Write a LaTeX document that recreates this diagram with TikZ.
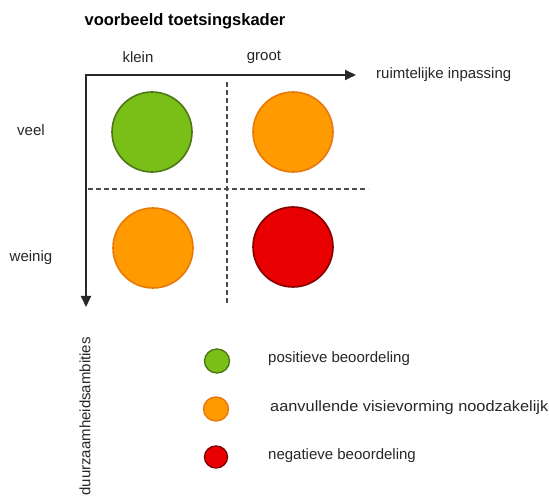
\documentclass[tikz,border=0pt]{standalone}
\usepackage{fontspec}
\setmainfont{Liberation Sans}
\usetikzlibrary{arrows.meta,shapes.geometric}
\definecolor{cgreen}{RGB}{122,190,24}
\definecolor{cgreenb}{RGB}{78,118,22}
\definecolor{corange}{RGB}{255,154,0}
\definecolor{corangeb}{RGB}{232,120,10}
\definecolor{cred}{RGB}{232,0,0}
\definecolor{credb}{RGB}{130,0,0}
\definecolor{axisc}{RGB}{40,40,40}
\begin{document}
\begin{tikzpicture}[x=1pt,y=-1pt,
  lbl/.style={font=\fontsize{15}{17}\selectfont, text=black!85, inner sep=0pt},
  bigdot/.style={circle, minimum size=80pt, line width=1.6pt, inner sep=0pt},
  smalldot/.style={ellipse, minimum width=25pt, minimum height=24pt, line width=1.4pt, inner sep=0pt},
  gdot/.style={fill=cgreen, draw=cgreenb},
  odot/.style={fill=corange, draw=corangeb},
  rdot/.style={fill=cred, draw=credb},
  axisline/.style={draw=axisc, line width=1.8pt, -{Triangle[length=11pt,width=10pt]}},
  divline/.style={draw=black!70, line width=1.6pt, dash pattern=on 5pt off 3pt}
]
\useasboundingbox (0,0) rectangle (549,502);
% title
\node[font=\fontsize{16.5}{19}\selectfont\bfseries, inner sep=0pt] (title) at (185,21) {voorbeeld toetsingskader};
% column labels
\node[lbl] (klein) at (138,57) {klein};
\node[lbl] (groot) at (264,57) {groot};
% axes
\coordinate (o) at (86,75);
\coordinate (xend) at (356,75);
\coordinate (yend) at (86,307);
\draw[axisline] ([xshift=-0.9pt]o) -- (xend);
\draw[axisline] (o) -- (yend);
\node[lbl, anchor=west] (xlab) at (376,75) {ruimtelijke inpassing};
\node[lbl, rotate=90, anchor=east] (ylab) at (85,337) {duurzaamheidsambities};
% row labels
\node[lbl] (veel) at (31,130) {veel};
\node[lbl] (weinig) at (31,258) {weinig};
% dividers
\coordinate (vtop) at (227,82);
\coordinate (vbot) at (227,303);
\coordinate (hl) at (88,189);
\coordinate (hr) at (368,189);
\draw[divline] (vtop) -- (vbot);
\draw[divline] (hl) -- (hr);
% quadrant circles
\node[bigdot, gdot] (c11) at (152,132) {};
\node[bigdot, odot] (c12) at (293,132) {};
\node[bigdot, odot] (c21) at (153,248) {};
\node[bigdot, rdot] (c22) at (293,247) {};
% legend
\node[smalldot, gdot] (lg) at (217,361) {};
\node[smalldot, odot] (lo) at (216,409) {};
\node[smalldot, rdot, minimum width=23pt, minimum height=22pt] (lr) at (216,457) {};
\node[lbl, anchor=west] (tg) at (268,359) {positieve beoordeling};
\node[lbl, anchor=west, xscale=1.09] (to) at (270,408) {aanvullende visievorming noodzakelijk};
\node[lbl, anchor=west] (tr) at (268,456) {negatieve beoordeling};
\end{tikzpicture}
\end{document}
